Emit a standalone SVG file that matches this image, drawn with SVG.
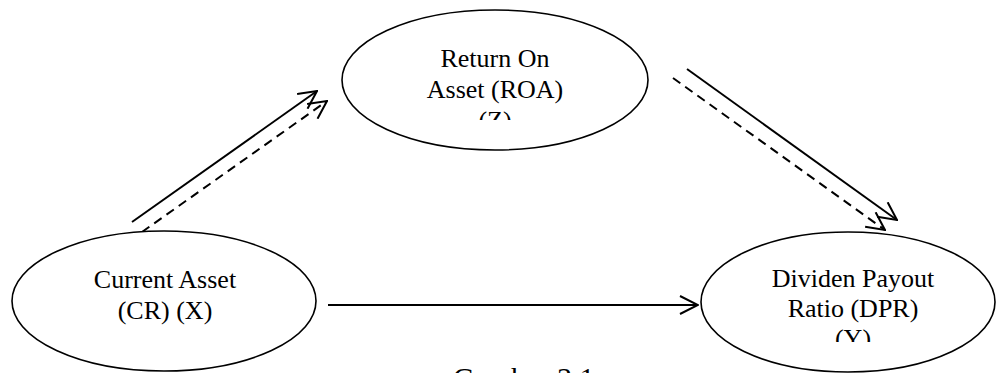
<svg xmlns="http://www.w3.org/2000/svg" width="996" height="373" viewBox="0 0 996 373">
<style>
.node{fill:#fff;stroke:#000;stroke-width:1.6}
.lbl{font-family:"Liberation Serif","Times New Roman",serif;font-size:26px;fill:#000;text-anchor:middle}
.cap{font-family:"Liberation Serif","Times New Roman",serif;font-size:30px;fill:#000}
.conn{stroke:#000;stroke-width:2;fill:none}
.dash{stroke-dasharray:9 6}
</style>
<defs>
<marker id="ah" viewBox="0 0 20 20" refX="19" refY="10" markerWidth="20" markerHeight="20" markerUnits="userSpaceOnUse" orient="auto">
<path d="M1,1 L19,10 L1,19" fill="none" stroke="#000" stroke-width="2"/>
</marker>
<clipPath id="clipZ"><rect x="340" y="0" width="310" height="120"/></clipPath>
<clipPath id="clipY"><rect x="700" y="230" width="296" height="112"/></clipPath>
</defs>
<rect width="996" height="373" fill="#fff"/>
<g id="connectors">
<line class="conn" x1="132" y1="222" x2="317" y2="91" marker-end="url(#ah)"/>
<line class="conn dash" x1="142" y1="232" x2="327" y2="101" marker-end="url(#ah)"/>
<line class="conn" x1="687" y1="69" x2="897" y2="220" marker-end="url(#ah)"/>
<line class="conn dash" x1="673" y1="78" x2="885" y2="230" marker-end="url(#ah)"/>
<line class="conn" x1="328" y1="305" x2="698" y2="305" marker-end="url(#ah)"/>
</g>
<g id="node-z">
<ellipse class="node" cx="495" cy="80" rx="153" ry="70"/>
<g clip-path="url(#clipZ)">
<text class="lbl" x="495" y="67">Return On</text>
<text class="lbl" x="495" y="98">Asset (ROA)</text>
<text class="lbl" x="495" y="129">(Z)</text>
</g>
</g>
<g id="node-x">
<ellipse class="node" cx="164" cy="301" rx="152" ry="70"/>
<text class="lbl" x="165" y="288">Current Asset</text>
<text class="lbl" x="165" y="319">(CR) (X)</text>
</g>
<g id="node-y">
<ellipse class="node" cx="848" cy="302" rx="147" ry="70"/>
<g clip-path="url(#clipY)">
<text class="lbl" x="853" y="287">Dividen Payout</text>
<text class="lbl" x="853" y="317">Ratio (DPR)</text>
<text class="lbl" x="853" y="347">(Y)</text>
</g>
</g>
<text class="cap" x="453" y="388">Gambar 3.1</text>
</svg>
